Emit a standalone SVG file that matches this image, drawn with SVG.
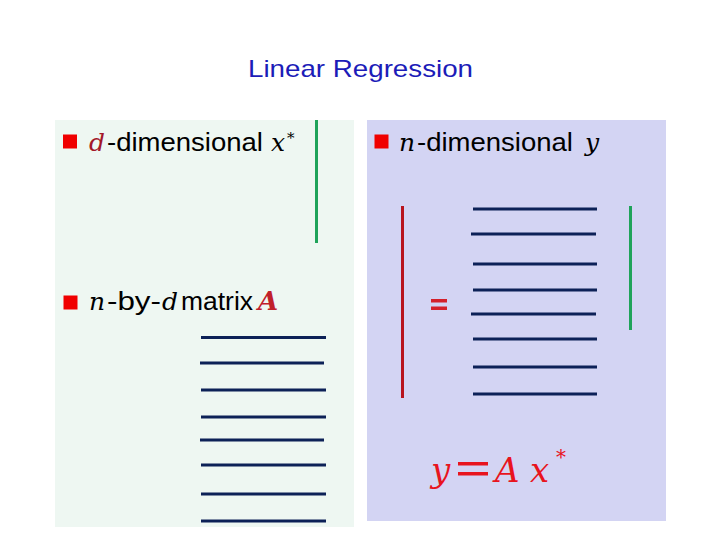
<svg xmlns="http://www.w3.org/2000/svg" width="720" height="540" viewBox="0 0 720 540">
<style>
.sans{font-family:"Liberation Sans",Arial,sans-serif;fill:#000;}
.math{font-family:"DejaVu Serif","Liberation Serif",serif;font-style:italic;}
.row{stroke:#0C2157;stroke-width:3;}
.bullet{fill:#F00000;}
</style>
<rect width="720" height="540" fill="#FFFFFF"/>
<g id="title">
<text x="248" y="77" class="sans" font-size="24" textLength="225" lengthAdjust="spacingAndGlyphs" style="fill:#1C1CB8">Linear Regression</text>
</g>
<g id="left-panel">
<rect x="55" y="120" width="299" height="407" fill="#EEF7F2"/>
</g>
<g id="right-panel">
<rect x="367" y="120" width="299" height="401" fill="#D3D4F3"/>
</g>
<g id="item-x">
<rect class="bullet" x="63" y="134.5" width="14" height="14"/>
<text x="89" y="150.5" class="math" font-size="25" fill="#A3182A" textLength="16" lengthAdjust="spacingAndGlyphs">d</text>
<text x="107" y="150.5" class="sans" font-size="25" textLength="156" lengthAdjust="spacingAndGlyphs">-dimensional</text>
<text x="271" y="150.5" class="math" font-size="25" fill="#000">x</text>
<text x="287" y="143" class="math" font-size="15" font-style="normal" fill="#000">*</text>
</g>
<g id="item-A">
<rect class="bullet" x="63.5" y="295.5" width="14" height="14"/>
<text x="89" y="310" class="math" font-size="25" fill="#000">n</text>
<text x="107" y="310" class="sans" font-size="25" textLength="54" lengthAdjust="spacingAndGlyphs">-by-</text>
<text x="162" y="310" class="math" font-size="25" fill="#000">d</text>
<text x="181" y="310" class="sans" font-size="25" textLength="72" lengthAdjust="spacingAndGlyphs">matrix</text>
<text x="258" y="310" class="math" font-size="26" font-weight="bold" fill="#C0202A">A</text>
</g>
<g id="item-y">
<rect class="bullet" x="374.5" y="134.5" width="14" height="14"/>
<text x="399" y="150.5" class="math" font-size="25" fill="#000">n</text>
<text x="417" y="150.5" class="sans" font-size="25" textLength="156" lengthAdjust="spacingAndGlyphs">-dimensional</text>
<text x="585" y="150.5" class="math" font-size="25" fill="#000">y</text>
</g>
<g id="vector-x-left">
<line x1="316.5" y1="120" x2="316.5" y2="243" stroke="#1FA35A" stroke-width="3"/>
</g>
<g id="matrix-A-left">
<line class="row" x1="201" y1="337.5" x2="326" y2="337.5"/>
<line class="row" x1="200" y1="363" x2="324" y2="363"/>
<line class="row" x1="201" y1="390" x2="326" y2="390"/>
<line class="row" x1="201" y1="417" x2="326" y2="417"/>
<line class="row" x1="200" y1="440" x2="324" y2="440"/>
<line class="row" x1="201" y1="465" x2="326" y2="465"/>
<line class="row" x1="201" y1="494" x2="326" y2="494"/>
<line class="row" x1="201" y1="521" x2="326" y2="521"/>
</g>
<g id="vector-y">
<line x1="402.5" y1="206" x2="402.5" y2="398" stroke="#B8141E" stroke-width="3"/>
</g>
<g id="equals">
<rect x="431" y="299" width="16" height="3.5" fill="#D4202A"/>
<rect x="431" y="306.5" width="16" height="3.5" fill="#D4202A"/>
</g>
<g id="matrix-A-right">
<line class="row" x1="473" y1="209" x2="597" y2="209"/>
<line class="row" x1="471" y1="234" x2="596" y2="234"/>
<line class="row" x1="473" y1="264" x2="597" y2="264"/>
<line class="row" x1="473" y1="290" x2="597" y2="290"/>
<line class="row" x1="471" y1="314" x2="596" y2="314"/>
<line class="row" x1="473" y1="339" x2="597" y2="339"/>
<line class="row" x1="473" y1="367" x2="597" y2="367"/>
<line class="row" x1="473" y1="394" x2="597" y2="394"/>
</g>
<g id="vector-x-right">
<line x1="630.5" y1="206" x2="630.5" y2="330" stroke="#1FA35A" stroke-width="3"/>
</g>
<g id="equation" fill="#E8141E">
<text x="431" y="482" class="math" font-size="34">y</text>
<rect x="458" y="462" width="30" height="3.5"/>
<rect x="458" y="472" width="30" height="3.5"/>
<text x="495" y="482" class="math" font-size="34">A</text>
<text x="530" y="482" class="math" font-size="34">x</text>
<text x="556" y="464" class="math" font-size="20" font-style="normal">*</text>
</g>
</svg>
